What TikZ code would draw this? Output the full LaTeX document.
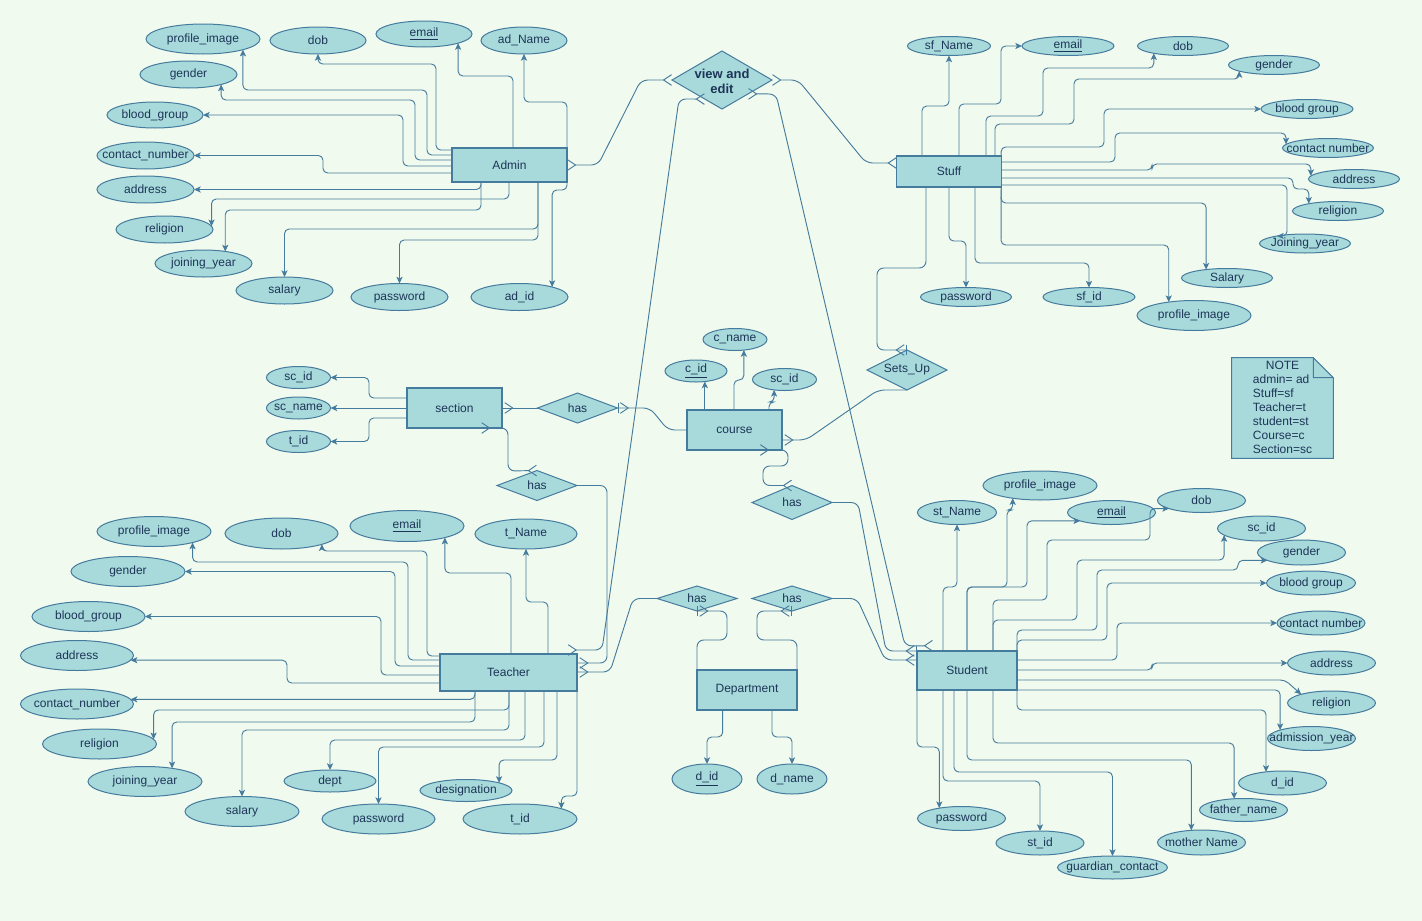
\documentclass[tikz,border=0pt]{standalone}
\usepackage{fontspec}
\setmainfont{Liberation Sans}
\usetikzlibrary{shapes.geometric,arrows.meta}
\definecolor{bgc}{HTML}{F1FAEE}
\definecolor{fillc}{HTML}{A8DADC}
\definecolor{strk}{HTML}{457B9D}
\definecolor{fontc}{HTML}{1D3557}
\newcommand\mkatt[6]{\node[attr,minimum width=#4*0.75pt,minimum height=#5*0.75pt] (#1) at (#2,#3) {\makebox[0pt]{#6}};}
\newcommand\mkent[6]{\node[ent,minimum width=#4*0.75pt,minimum height=#5*0.75pt] (#1) at (#2,#3) {\makebox[0pt]{#6}};}
\newcommand\mkrel[6]{\node[reln,minimum width=#4*0.75pt,minimum height=#5*0.75pt] (#1) at (#2,#3) {\makebox[0pt]{#6}};}
\tikzset{
  attr/.style={ellipse, draw=strk, fill=fillc, line width=0.75pt, inner sep=0pt, outer sep=0pt},
  ent/.style={rectangle, draw=strk, fill=fillc, line width=0.9pt, inner sep=0pt, outer sep=0pt},
  reln/.style={diamond, draw=strk, fill=fillc, line width=0.75pt, inner sep=0pt, outer sep=0pt},
  conn/.style={draw=strk, line width=0.7pt, rounded corners=3.5pt, -{Stealth[length=5pt,width=4.6pt,inset=1.2pt]}},
  relline/.style={draw=strk, line width=0.7pt, rounded corners=5pt},
  crowmany/.tip={Straight Barb[reversed,length=6pt,width=8pt]},
  crowone/.tip={Straight Barb[reversed,length=6pt,width=8pt,sep=1pt] Bar[width=8pt]}
}
\begin{document}
\begin{tikzpicture}[x=0.75pt,y=-0.75pt,font=\fontsize{9}{10.5}\selectfont,text=fontc]
\fill[bgc] (0,0) rectangle (1422,921);
\useasboundingbox (0,0) rectangle (1422,921);

% ---------- Admin ----------
\mkent{admin}{509.5}{165}{115}{34}{Admin}
\mkatt{apimg}{203}{39}{114}{30}{profile\_image}
\mkatt{adob}{318}{40.5}{96}{27}{dob}
\mkatt{aemail}{424}{34}{96}{26}{\underline{email}}
\mkatt{aname}{524}{40.5}{86}{27}{ad\_Name}
\mkatt{agender}{188.5}{74.5}{97}{27}{gender}
\mkatt{ablood}{155}{115}{96}{26}{blood\_group}
\mkatt{acontact}{145.5}{155.5}{97}{27}{contact\_number}
\mkatt{aaddr}{145.5}{189.5}{97}{27}{address}
\mkatt{arelig}{164.5}{229.5}{97}{27}{religion}
\mkatt{ajoin}{203.5}{263.5}{97}{27}{joining\_year}
\mkatt{asal}{284.5}{290.5}{97}{27}{salary}
\mkatt{apass}{399.5}{297}{97}{27}{password}
\mkatt{aid}{519.5}{297}{97}{27}{ad\_id}

% ---------- Stuff ----------
\mkent{stuff}{949}{171.5}{104.5}{31}{Stuff}
\mkatt{sname}{949}{46}{83}{19}{sf\_Name}
\mkatt{semail}{1068}{46}{92}{19}{\underline{email}}
\mkatt{sdob}{1183}{46}{91}{19}{dob}
\mkatt{sgender}{1274}{65}{91}{19}{gender}
\mkatt{sblood}{1307}{109}{92}{19}{blood group}
\mkatt{scontact}{1328}{148}{91}{19}{contact number}
\mkatt{saddr}{1354}{179}{91}{19}{address}
\mkatt{srelig}{1338}{211}{91}{19}{religion}
\mkatt{sjoin}{1305}{243.5}{91}{19}{Joining\_year}
\mkatt{ssal}{1227}{278}{91}{19}{Salary}
\mkatt{spimg}{1194}{315.5}{114}{30}{profile\_image}
\mkatt{spass}{966}{297}{91}{19}{password}
\mkatt{sid}{1089}{297}{92}{19}{sf\_id}

% ---------- Section / Course / Department ----------
\mkent{section}{454.5}{408}{95}{40}{section}
\mkatt{secscid}{298.5}{377.5}{64}{22}{sc\_id}
\mkatt{secname}{298.5}{408}{64}{22}{sc\_name}
\mkatt{sectid}{298.5}{441.5}{64}{22}{t\_id}
\mkent{course}{734.5}{430}{95}{40}{course}
\mkatt{cid}{696}{371}{62}{22}{\underline{c\_id}}
\mkatt{cname}{735}{339.5}{64}{22}{c\_name}
\mkatt{cscid}{784.5}{379.5}{64}{22}{sc\_id}
\mkent{dept}{747}{690}{100}{40}{Department}
\mkatt{did}{707}{779}{70}{30}{\underline{d\_id}}
\mkatt{dname}{792}{779}{70}{30}{d\_name}

% ---------- Teacher ----------
\mkent{teacher}{508.5}{672.5}{137}{37}{Teacher}
\mkatt{tpimg}{154}{531.5}{114}{30}{profile\_image}
\mkatt{tdob}{281.5}{533.5}{113}{31}{dob}
\mkatt{temail}{407}{526}{114}{31}{\underline{email}}
\mkatt{tname}{526}{534}{102}{30}{t\_Name}
\mkatt{tgender}{128}{571.5}{114}{30}{gender}
\mkatt{tblood}{88.5}{616.5}{113}{30}{blood\_group}
\mkatt{taddr}{77}{655.5}{113}{30}{address}
\mkatt{tcontact}{77}{704}{113}{30}{contact\_number}
\mkatt{trelig}{99.5}{744}{114}{30}{religion}
\mkatt{tjoin}{145}{781.5}{114}{30}{joining\_year}
\mkatt{tsal}{242}{811.5}{114}{30}{salary}
\mkatt{tdept}{330}{781}{92}{22}{dept}
\mkatt{tpass}{378.5}{819}{113}{30}{password}
\mkatt{tdesig}{466}{790.5}{92}{22}{designation}
\mkatt{tid}{520}{819}{114}{30}{t\_id}

% ---------- Student ----------
\mkent{student}{967}{670.5}{100}{39}{Student}
\mkatt{stname}{957}{512.5}{79}{24}{st\_Name}
\mkatt{stpimg}{1040}{485.5}{114}{29}{profile\_image}
\mkatt{stemail}{1111.5}{512.5}{88}{24}{\underline{email}}
\mkatt{stdob}{1201.5}{500.5}{88}{24}{dob}
\mkatt{stscid}{1261.5}{528.5}{88}{25}{sc\_id}
\mkatt{stgender}{1301.5}{552.5}{88}{25}{gender}
\mkatt{stblood}{1311}{583}{89}{24}{blood group}
\mkatt{stcontact}{1321}{623}{88}{24}{contact number}
\mkatt{staddr}{1331.5}{663}{88}{24}{address}
\mkatt{strelig}{1331.5}{703}{88}{24}{religion}
\mkatt{stadm}{1311.5}{738.5}{88}{24}{admission\_year}
\mkatt{stdid}{1282.5}{783}{88}{24}{d\_id}
\mkatt{stfather}{1243.5}{810}{88}{23}{father\_name}
\mkatt{stmother}{1201.5}{842.5}{88}{25}{mother Name}
\mkatt{stguard}{1112.5}{867.5}{110}{23}{guardian\_contact}
\mkatt{stid}{1040}{843}{88}{24}{st\_id}
\mkatt{stpass}{961.5}{818.5}{88}{24}{password}

% ---------- Relationships ----------
\mkrel{ve}{722}{80}{100}{58}{\raisebox{-4.5pt}[0pt][0pt]{\fontsize{9.75}{11.25}\selectfont\bfseries\begin{tabular}{@{}c@{}}view and\\edit\end{tabular}}}
\mkrel{setsup}{907}{370}{80}{40}{Sets\_Up}
\mkrel{hasa}{577.5}{408}{80}{30}{has}
\mkrel{hasb}{537}{485.5}{80}{30}{has}
\mkrel{hasc}{792}{502.5}{80}{34}{has}
\mkrel{hasd}{697}{598.5}{80}{25}{has}
\mkrel{hase}{792}{598.5}{80}{25}{has}

% ---------- Note ----------
\node[minimum width=101*0.75pt,minimum height=100*0.75pt,inner sep=0pt] (note) at (1282.5,408) {};
\filldraw[draw=strk,fill=fillc,line width=0.75pt] (note.north west) -- ([xshift=-15pt]note.north east) -- ([yshift=-15pt]note.north east) -- (note.south east) -- (note.south west) -- cycle;
\filldraw[draw=strk,fill=fillc,line width=0.75pt] ([xshift=-15pt]note.north east) -- ([xshift=-15pt,yshift=-15pt]note.north east) -- ([yshift=-15pt]note.north east) -- cycle;
\node (notetext) at (1282.5,409) {\begin{tabular}{@{}l@{}}\multicolumn{1}{@{}c@{}}{NOTE}\\admin= ad\\Stuff=sf\\Teacher=t\\student=st\\Course=c\\Section=sc\end{tabular}};

% ---------- Admin attribute connectors ----------
\draw[conn] (admin.west|-0,150) -| (436,64) -| (adob.south);
\draw[conn] (admin.west|-0,155) -| (427,90) -| (apimg.-15);
\draw[conn] (admin.west|-0,160) -| (415,100) -| (agender.-17);
\draw[conn] (admin.west|-0,166) -| (403,115) -- (ablood.east);
\draw[conn] (admin.west|-0,173) -| (323,155.5) -- (acontact.east);
\draw[conn] (513,0|-admin.north) -- (513,76) -| (aemail.-15);
\draw[conn] (admin.north east) |- (524,102) -- (aname.south);
\draw[conn] (481,0|-admin.south) |- (aaddr.east);
\draw[conn] (509,0|-admin.south) -- (509,199) -| (arelig.4);
\draw[conn] (481,0|-admin.south) -- (481,210) -| (ajoin.29);
\draw[conn] (538,0|-admin.south) -- (538,229) -| (asal.north);
\draw[conn] (538,0|-admin.south) -- (538,240) -| (apass.north);
\draw[conn] (admin.south east) -- (567,190) -| (aid.17);

% ---------- Stuff attribute connectors ----------
\draw[conn] (922,0|-stuff.north) -- (922,106) -| (sname.south);
\draw[conn] (959,0|-stuff.north) -- (959,104) -| (1001,46) -- (semail.west);
\draw[conn] (986,0|-stuff.north) -- (986,116) -| (1043,68) -| (sdob.-166);
\draw[conn] (995,0|-stuff.north) -- (995,124) -| (1074,79) -| (sgender.-170);
\draw[conn] (stuff.north east) -- (1001,147) -| (1104,109) -- (sblood.west);
\draw[conn] (stuff.east|-0,162) -| (1115,133) -| (scontact.175);
\draw[conn] (stuff.east|-0,170) -| (1152,164) -| (saddr.176);
\draw[conn] (stuff.east|-0,178) -| (1293,189) -| (srelig.166);
\draw[conn] (stuff.east|-0,185) -| (1287,236) -- (sjoin.165);
\draw[conn] (stuff.south east) -- (1001,203) -| (ssal.158);
\draw[conn] (stuff.south east) -- (1001,245) -| (spimg.152);
\draw[conn] (949,0|-stuff.south) -- (949,241) -| (spass.north);
\draw[conn] (975,0|-stuff.south) -- (975,263) -| (sid.north);

% ---------- Section / Course / Department attribute connectors ----------
\draw[conn] (section.west|-0,398) -| (369,377.5) -- (secscid.east);
\draw[conn] (section.west) -- (secname.east);
\draw[conn] (section.west|-0,418) -| (369,441.5) -- (sectid.east);
\draw[conn] (cid.-50|-course.north) -- (cid.-50);
\draw[conn] (734,0|-course.north) -- (734,380) -| (cname.-50);
\draw[conn] (769,0|-course.north) -- (769,402) -| (cscid.-135);
\draw[conn] (722.7,0|-dept.south) -- (722.7,737) -| (did.north);
\draw[conn] (772,0|-dept.south) -- (772,737) -| (dname.north);

% ---------- Teacher attribute connectors ----------
\draw[conn] (teacher.west|-0,656) -| (427,551) -| (tdob.-15);
\draw[conn] (teacher.west|-0,660) -| (408,562) -| (tpimg.-16);
\draw[conn] (teacher.west|-0,666) -| (395,571.5) -- (tgender.east);
\draw[conn] (teacher.west|-0,675) -| (381,616.5) -- (tblood.east);
\draw[conn] (teacher.west|-0,683) -| (287,0|-taddr.-5) -- (taddr.-5);
\draw[conn] (511,0|-teacher.north) -- (511,573) -| (temail.-17);
\draw[conn] (548,0|-teacher.north) -- (548,602) -| (tname.south);
\draw[conn] (475,0|-teacher.south) |- (tcontact.5);
\draw[conn] (509,0|-teacher.south) -- (509,710) -| (trelig.5);
\draw[conn] (475,0|-teacher.south) -- (475,722) -| (tjoin.26);
\draw[conn] (509,0|-teacher.south) -- (509,730) -| (tsal.north);
\draw[conn] (525,0|-teacher.south) -- (525,740) -| (tdept.north);
\draw[conn] (544,0|-teacher.south) -- (544,747) -| (tpass.north);
\draw[conn] (557,0|-teacher.south) -- (557,760) -| (tdesig.13);
\draw[conn] (teacher.south east) -- (577,796) -| (tid.14);

% ---------- Student attribute connectors ----------
\draw[conn] (943,0|-student.north) -- (943,587) -| (stname.south);
\draw[conn] (967,0|-student.north) -- (967,587) -| (1007,510) -| (stpimg.-155);
\draw[conn] (967,0|-student.north) -- (967,587) -| (1027,0|-stemail.-165) -- (stemail.-165);
\draw[conn] (993,0|-student.north) -- (993,600) -| (1047,540) -| (1150,0|-stdob.-166) -- (stdob.-166);
\draw[conn] (993,0|-student.north) -- (993,620) -| (1077,560) -| (stscid.-170);
\draw[conn] (student.north east) -- (1017,630) -| (1097,570) -| (1238,0|-stgender.-167) -- (stgender.-167);
\draw[conn] (student.north east) -- (1017,640) -| (1107,583) -- (stblood.west);
\draw[conn] (student.east|-0,660) -| (1117,623) -- (stcontact.west);
\draw[conn] (student.east|-0,670) -| (1152,663) -- (staddr.west);
\draw[conn] (student.east|-0,680) -- (1285,680) -- (strelig.164);
\draw[conn] (student.south east) -| (stadm.165);
\draw[conn] (student.south east) -- (1017,710) -| (stdid.146);
\draw[conn] (993,0|-student.south) -- (993,743) -| (stfather.130);
\draw[conn] (967,0|-student.south) -- (967,760) -| (stmother.130);
\draw[conn] (954,0|-student.south) -- (954,772) -| (stguard.north);
\draw[conn] (943,0|-student.south) -- (943,781) -| (stid.north);
\draw[conn] (student.south west) -- (917,747) -| (stpass.155);

% ---------- Relationship connectors ----------
\draw[relline,{crowmany}-{crowmany}] (admin.east) -- (598,165) -- (641,80) -- (ve.west);
\draw[relline,{crowmany}-{crowmany}] (ve.east) -- (798,80) -- (866,163) -- (stuff.west|-0,163);
\draw[relline,{crowmany}-{crowmany}] (ve.-132) -- (679,99) -- (602,650) -- ([xshift=-7pt,yshift=3pt]teacher.north east);
\draw[relline,{crowmany}-{crowmany}] (ve.-28) -- (776,94) -- (905,646) -- ([xshift=12pt,yshift=4pt]student.north west);
\draw[relline,-{crowone}] (926,0|-stuff.south) -- (926,268) -- (877,268) -- (877,350) -- (setsup.north);
\draw[relline,-{crowone}] (setsup.south) -- (878,390) -- (806,440) -- (course.east|-0,440);
\draw[relline,-{crowone}] (hasa.west) -- (section.east);
\draw[relline,-{crowone}] (course.west) -- (668,430) -- (650,408) -- (hasa.east);
\draw[relline,{crowmany}-{crowmany}] ([xshift=20pt]section.south) -- (508,428) -- (508,471) -- (hasb.north);
\draw[relline,-{crowone}] (hasb.east) -- (607,485.5) -- (607,663) -- (teacher.east|-0,663);
\draw[relline,{crowmany}-{crowmany}] ([xshift=19pt]course.south) -- (788,450) -- (788,466) -- (763,466) -- (763,485.5) -- (hasc.north);
\draw[relline,-{crowone}] (hasc.east) -- (858,502.5) -- (886,651) -- (student.north west);
\draw[relline,-{crowone}] (hasd.west) -- (633,598.5) -- (610,672) -- (teacher.east|-0,672);
\draw[relline,-{crowone}] (hase.east) -- (857,598.5) -- (885,660) -- (student.west|-0,660);
\draw[relline,-{crowone}] (dept.north west) -- (697,640) -- (727,640) -- (727,611) -- (hasd.south);
\draw[relline,-{crowone}] (dept.north east) -- (797,640) -- (757,640) -- (757,611) -- (hase.south);
\end{tikzpicture}
\end{document}
